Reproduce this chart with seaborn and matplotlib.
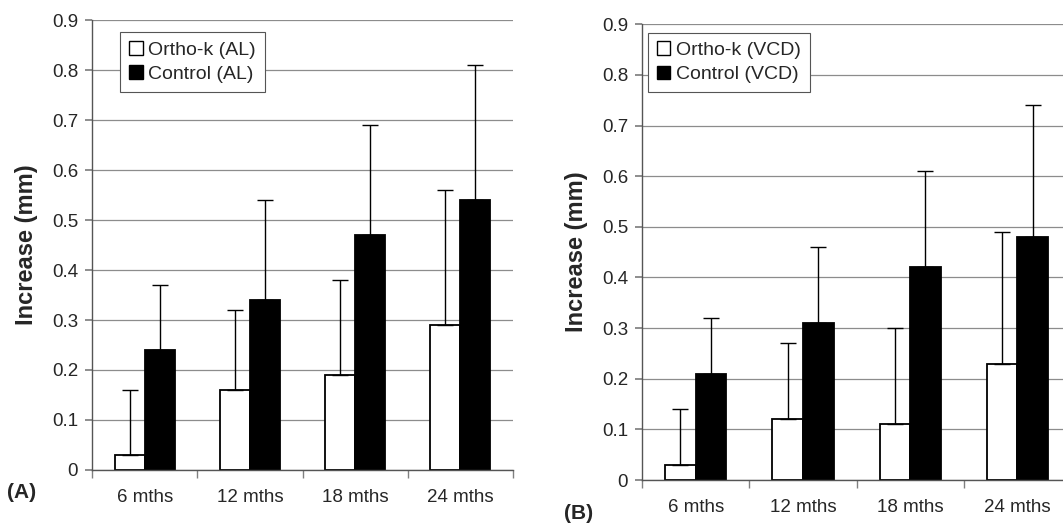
import numpy as np
import pandas as pd
import seaborn as sns
import matplotlib
matplotlib.use("Agg")
import matplotlib.pyplot as plt
from matplotlib.patches import Patch

# data
periods = ["6 mths", "12 mths", "18 mths", "24 mths"]

al_ortho = [0.03, 0.16, 0.19, 0.29]
al_ortho_sd = [0.13, 0.16, 0.19, 0.27]
al_control = [0.24, 0.34, 0.47, 0.54]
al_control_sd = [0.13, 0.20, 0.22, 0.27]

vcd_ortho = [0.03, 0.12, 0.11, 0.23]
vcd_ortho_sd = [0.11, 0.15, 0.19, 0.26]
vcd_control = [0.21, 0.31, 0.42, 0.48]
vcd_control_sd = [0.11, 0.15, 0.19, 0.26]

panels = [
    ("(A)", "AL", al_ortho, al_ortho_sd, al_control, al_control_sd),
    ("(B)", "VCD", vcd_ortho, vcd_ortho_sd, vcd_control, vcd_control_sd),
]

sns.set_theme(style="white")
plt.rcParams["font.family"] = ["Liberation Sans", "DejaVu Sans"]

fig = plt.figure(figsize=(10.63, 5.25), dpi=100)
positions = [
    [0.0866, 0.1048, 0.396, 0.857],
    [0.604, 0.0857, 0.4036, 0.868],
]
legend_anchor = [(0.067, 0.973), (0.014, 0.982)]
label_pos = [(0.007, 0.044), (0.531, 0.004)]

for (tag, meas, ortho, ortho_sd, ctrl, ctrl_sd), pos, la, lp in zip(
        panels, positions, legend_anchor, label_pos):
    ax = fig.add_axes(pos)
    g1 = f"Ortho-k ({meas})"
    g2 = f"Control ({meas})"
    df = pd.DataFrame({
        "period": periods * 2,
        "group": [g1] * 4 + [g2] * 4,
        "value": ortho + ctrl,
    })
    sns.barplot(data=df, x="period", y="value", hue="group", order=periods,
                hue_order=[g1, g2], palette=["white", "black"], width=0.57,
                edgecolor="black", linewidth=1.3, errorbar=None, legend=False, ax=ax)

    # one-sided (upward) error bars, centred on each bar
    for cont, vals, sds in zip(ax.containers, [ortho, ctrl], [ortho_sd, ctrl_sd]):
        xs = [b.get_x() + b.get_width() / 2 for b in cont]
        ax.errorbar(xs, vals, yerr=[np.zeros(len(sds)), sds], fmt="none",
                    ecolor="black", elinewidth=1, capsize=5.5, capthick=1, zorder=3)

    ax.set_ylim(0, 0.9)
    ax.set_xlim(-0.5, 3.5)
    ax.set_yticks(np.arange(0, 0.91, 0.1))
    ax.set_yticklabels(["0"] + [f"{v:.1f}" for v in np.arange(0.1, 0.91, 0.1)])
    ax.yaxis.grid(True, color="#8c8c8c", linewidth=0.9)
    ax.set_axisbelow(True)
    for s in ["top", "right"]:
        ax.spines[s].set_visible(False)
    for s in ["left", "bottom"]:
        ax.spines[s].set_color("#555555")
        ax.spines[s].set_linewidth(1)

    ax.set_xticks([0.5, 1.5, 2.5, -0.5, 3.5], minor=True)
    ax.tick_params(axis="x", which="major", length=0, pad=14, labelsize=13.5)
    ax.tick_params(axis="x", which="minor", length=6, color="#808080", direction="out",
                   bottom=True)
    ax.tick_params(axis="y", length=5, color="#808080", direction="out", left=True,
                   pad=5, labelsize=13.5)
    ax.set_xlabel("")
    ax.set_ylabel("Increase (mm)", fontsize=17, fontweight="bold", labelpad=10)

    handles = [Patch(facecolor="white", edgecolor="black", label=g1),
               Patch(facecolor="black", edgecolor="black", label=g2)]
    leg = ax.legend(handles=handles, loc="upper left", bbox_to_anchor=la,
                    fontsize=14, frameon=True, fancybox=False, framealpha=1,
                    edgecolor="#555555", handlelength=0.7, handleheight=0.7,
                    handletextpad=0.3, borderpad=0.45, labelspacing=0.35,
                    borderaxespad=0)
    leg.get_frame().set_linewidth(0.8)

    fig.text(lp[0], lp[1], tag, fontsize=15, fontweight="bold", ha="left", va="bottom")

fig.savefig("out.png", dpi=100)
